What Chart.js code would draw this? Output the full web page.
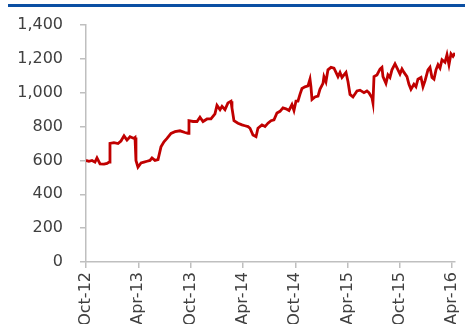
<!DOCTYPE html>
<html>
<head>
<meta charset="utf-8">
<script src="https://cdn.jsdelivr.net/npm/chart.js@4/dist/chart.umd.min.js"></script>
<style>
  html, body { margin: 0; padding: 0; background: #fff; overflow: hidden; }
  #wrap { position: relative; width: 465px; height: 324px; overflow: hidden; }
  #rule { position: absolute; left: 8px; top: 4px; width: 457px; height: 3px; background: #0b4fa3; }
  #myChart { position: absolute; left: 0; top: 0; }
</style>
</head>
<body>
<div id="wrap">
  <div id="rule"></div>
  <canvas id="myChart" width="465" height="360"></canvas>
</div>
<script>
// ===== データ（月数: 2012年10月からの経過月） =====
const months = [
  0, 0.34, 0.69, 1.03, 1.26, 1.61, 2.06, 2.41, 2.64, 2.75,
  3.21, 3.67, 4.01, 4.36, 4.70, 5.05, 5.50, 5.62, 5.73, 5.96,
  6.31, 6.65, 7.00, 7.34, 7.57, 7.91, 8.26, 8.60, 8.94, 9.29,
  9.75, 10.21, 10.78, 11.35, 11.70, 11.81, 12.27, 12.73, 13.07, 13.42,
  13.88, 14.33, 14.79, 15.02, 15.37, 15.60, 15.94, 16.28, 16.63, 16.74,
  16.97, 17.43, 17.89, 18.23, 18.58, 18.81, 19.15, 19.50, 19.72, 20.18,
  20.53, 20.87, 21.22, 21.56, 21.90, 22.25, 22.59, 22.94, 23.28, 23.62,
  23.85, 24.08, 24.31, 24.54, 24.77, 25.11, 25.46, 25.69, 25.80, 25.92,
  26.26, 26.61, 26.83, 27.18, 27.29, 27.52, 27.75, 28.10, 28.44, 28.67,
  28.90, 29.13, 29.36, 29.59, 29.82, 30.05, 30.28, 30.62, 31.08, 31.42,
  31.88, 32.22, 32.45, 32.80, 32.91, 33.03, 33.37, 33.72, 33.94, 34.06,
  34.40, 34.63, 34.86, 35.09, 35.44, 35.78, 36.01, 36.24, 36.47, 36.81,
  37.04, 37.27, 37.61, 37.84, 38.07, 38.42, 38.65, 38.88, 39.22, 39.45,
  39.68, 39.91, 40.14, 40.37, 40.60, 40.83, 41.17, 41.40, 41.63, 41.86,
  42.09, 42.32
];
const values = [
  600, 595, 600, 590, 615, 580, 578, 582, 590, 700,
  705, 700, 715, 745, 720, 740, 730, 735, 600, 560,
  585, 590, 595, 600, 615, 600, 605, 680, 710, 730,
  760, 770, 775, 765, 760, 835, 830, 830, 855, 830,
  845, 845, 875, 925, 900, 920, 900, 940, 950, 910,
  835, 820, 810, 805, 800, 790, 750, 740, 790, 810,
  800, 820, 835, 840, 880, 890, 910, 905, 895, 930,
  895, 950, 950, 990, 1025, 1035, 1040, 1080, 1035, 960,
  975, 980, 1020, 1055, 1095, 1065, 1135, 1150, 1145, 1120,
  1095, 1120, 1090, 1105, 1120, 1065, 990, 975, 1010, 1015,
  1000, 1010, 1000, 970, 940, 1095, 1105, 1140, 1150, 1095,
  1055, 1105, 1090, 1135, 1170, 1135, 1110, 1140, 1120, 1095,
  1050, 1020, 1050, 1035, 1080, 1090, 1035, 1070, 1135, 1150,
  1090, 1080, 1135, 1165, 1145, 1195, 1180, 1225, 1165, 1230,
  1215, 1235
];
const tickMonths = [0, 6, 12, 18, 24, 30, 36, 42];
const tickLabels = ['Oct-12', 'Apr-13', 'Oct-13', 'Apr-14', 'Oct-14', 'Apr-15', 'Oct-15', 'Apr-16'];
const yTicks = [0, 200, 400, 600, 800, 1000, 1200, 1400];

const points = months.map((m, i) => ({ x: m, y: values[i] }));

const axisColor = '#bfbfbf';
const textColor = '#404040';
const font = { family: 'DejaVu Sans', size: 16 };

new Chart(document.getElementById('myChart'), {
  type: 'line',
  data: {
    datasets: [{
      data: points,
      borderColor: '#c00000',
      borderWidth: 2.8,
      pointRadius: 0,
      tension: 0,
      fill: false,
    }],
  },
  options: {
    responsive: false,
    animation: false,
    devicePixelRatio: 1,
    layout: { padding: { top: 25, right: 10, left: 0, bottom: 0 } },
    plugins: { legend: { display: false }, tooltip: { enabled: false } },
    scales: {
      x: {
        type: 'linear',
        min: 0,
        max: 42.32,
        afterBuildTicks: s => { s.ticks = tickMonths.map(v => ({ value: v })); },
        afterFit: s => { s.height = 98; s.paddingLeft = 0; s.paddingRight = 0; },
        border: { color: axisColor, width: 1.5 },
        grid: { drawOnChartArea: false, drawTicks: true, tickLength: 6, color: axisColor, lineWidth: 1.5 },
        ticks: {
          autoSkip: false,
          minRotation: 90,
          maxRotation: 90,
          padding: 4,
          color: textColor,
          font: font,
          callback: v => tickLabels[tickMonths.indexOf(v)],
        },
      },
      y: {
        min: 0,
        max: 1400,
        afterBuildTicks: s => { s.ticks = yTicks.map(v => ({ value: v })); },
        afterFit: s => { s.width = 86; s.paddingTop = 0; s.paddingBottom = 0; },
        border: { color: axisColor, width: 1.5 },
        grid: { drawOnChartArea: false, drawTicks: true, tickLength: 6, color: axisColor, lineWidth: 1.5 },
        ticks: {
          padding: 17,
          color: textColor,
          font: font,
          callback: v => v.toLocaleString('en-US'),
        },
      },
    },
  },
});
</script>
</body>
</html>
